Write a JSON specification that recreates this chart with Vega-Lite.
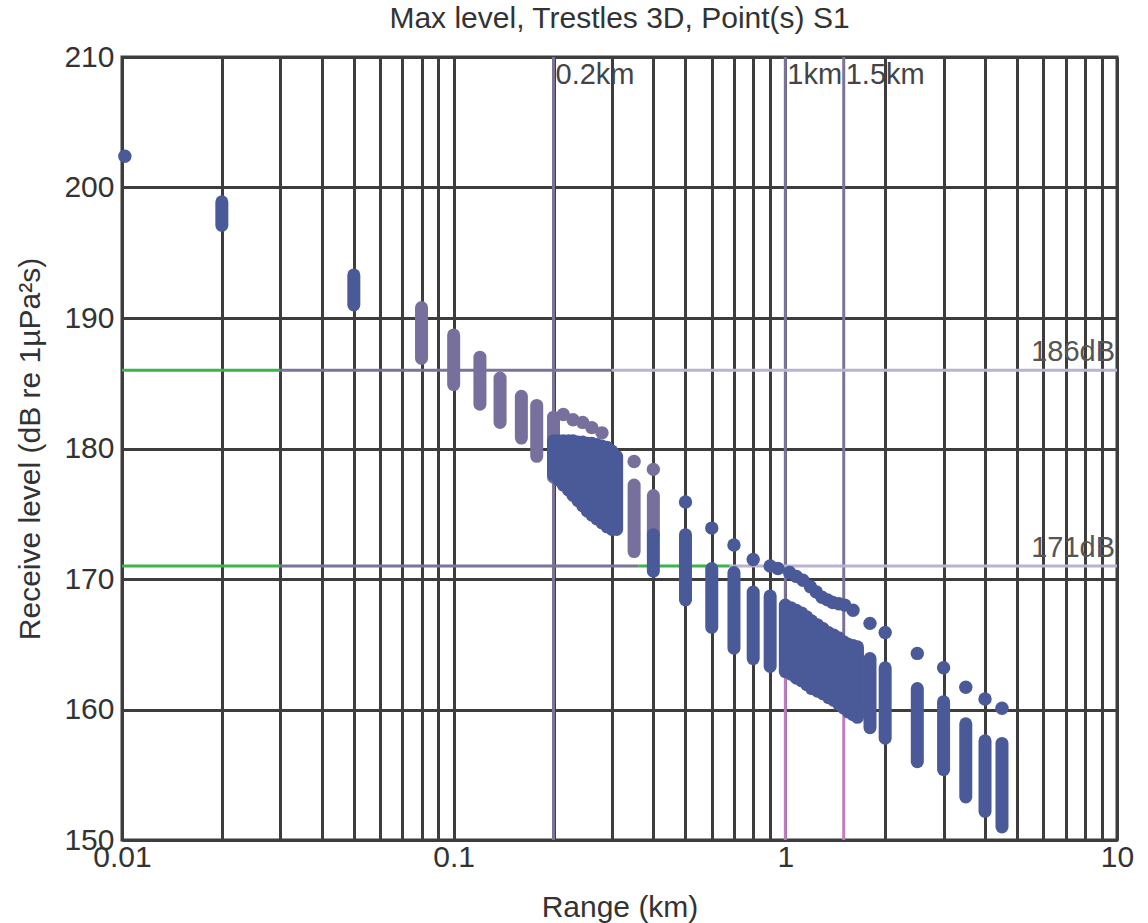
{
  "$schema": "https://vega.github.io/schema/vega-lite/v6.json",
  "width": 995,
  "height": 783,
  "autosize": "none",
  "padding": {"left": 122, "top": 57, "right": 31, "bottom": 83},
  "background": "white",
  "config": {
    "font": "Liberation Sans",
    "view": {"stroke": "#3d3d3d", "strokeWidth": 3},
    "axis": {
      "grid": true, "gridColor": "#3d3d3d", "gridWidth": 3, "gridOpacity": 1,
      "domain": false, "ticks": false,
      "labelFont": "Liberation Sans", "labelFontSize": 30, "labelColor": "#333333",
      "titleFont": "Liberation Sans", "titleFontSize": 30, "titleFontWeight": "normal", "titleColor": "#333333",
      "labelOverlap": false, "labelFlush": false, "labelBound": false
    },
    "axisX": {"labelPadding": 2, "titlePadding": 20},
    "axisY": {"labelPadding": 8, "titlePadding": 18}
  },
  "title": {
    "text": "Max level, Trestles 3D, Point(s) S1",
    "fontSize": 30, "fontWeight": "normal", "color": "#333333", "font": "Liberation Sans",
    "anchor": "middle", "offset": 8
  },
  "datasets": {
    "cols": [
      {"r": 0.02, "lo": 197.1, "hi": 198.9, "s": "blue"},
      {"r": 0.05, "lo": 191.0, "hi": 193.3, "s": "blue"},
      {"r": 0.08, "lo": 186.9, "hi": 190.8, "s": "purple"},
      {"r": 0.1, "lo": 184.9, "hi": 188.7, "s": "purple"},
      {"r": 0.12, "lo": 183.4, "hi": 187.0, "s": "purple"},
      {"r": 0.138, "lo": 182.0, "hi": 185.4, "s": "purple"},
      {"r": 0.16, "lo": 180.8, "hi": 184.0, "s": "purple"},
      {"r": 0.178, "lo": 179.4, "hi": 183.3, "s": "purple"},
      {"r": 0.2, "lo": 177.8, "hi": 182.4, "s": "purple"},
      {"r": 0.35, "lo": 172.1, "hi": 177.2, "s": "purple"},
      {"r": 0.4, "lo": 173.4, "hi": 176.4, "s": "purple"},
      {"r": 0.2, "lo": 178.0, "hi": 180.6, "s": "blue"},
      {"r": 0.207, "lo": 177.6, "hi": 180.6, "s": "blue"},
      {"r": 0.214, "lo": 177.2, "hi": 180.6, "s": "blue"},
      {"r": 0.222, "lo": 176.8, "hi": 180.6, "s": "blue"},
      {"r": 0.229, "lo": 176.4, "hi": 180.6, "s": "blue"},
      {"r": 0.237, "lo": 176.0, "hi": 180.5, "s": "blue"},
      {"r": 0.245, "lo": 175.6, "hi": 180.5, "s": "blue"},
      {"r": 0.253, "lo": 175.2, "hi": 180.4, "s": "blue"},
      {"r": 0.261, "lo": 174.9, "hi": 180.4, "s": "blue"},
      {"r": 0.27, "lo": 174.6, "hi": 180.3, "s": "blue"},
      {"r": 0.28, "lo": 174.3, "hi": 180.2, "s": "blue"},
      {"r": 0.29, "lo": 174.0, "hi": 180.1, "s": "blue"},
      {"r": 0.3, "lo": 173.8, "hi": 179.8, "s": "blue"},
      {"r": 0.31, "lo": 173.8, "hi": 179.4, "s": "blue"},
      {"r": 0.4, "lo": 170.6, "hi": 173.4, "s": "blue"},
      {"r": 0.5, "lo": 168.4, "hi": 173.4, "s": "blue"},
      {"r": 0.6, "lo": 166.3, "hi": 170.8, "s": "blue"},
      {"r": 0.7, "lo": 164.7, "hi": 170.5, "s": "blue"},
      {"r": 0.8, "lo": 163.9, "hi": 169.0, "s": "blue"},
      {"r": 0.9, "lo": 163.3, "hi": 168.7, "s": "blue"},
      {"r": 1.0, "lo": 162.9, "hi": 168.0, "s": "blue"},
      {"r": 1.04, "lo": 162.7, "hi": 167.8, "s": "blue"},
      {"r": 1.08, "lo": 162.4, "hi": 167.6, "s": "blue"},
      {"r": 1.12, "lo": 162.2, "hi": 167.4, "s": "blue"},
      {"r": 1.16, "lo": 161.9, "hi": 167.1, "s": "blue"},
      {"r": 1.2, "lo": 161.6, "hi": 166.8, "s": "blue"},
      {"r": 1.25, "lo": 161.4, "hi": 166.5, "s": "blue"},
      {"r": 1.3, "lo": 161.2, "hi": 166.2, "s": "blue"},
      {"r": 1.35, "lo": 160.9, "hi": 165.9, "s": "blue"},
      {"r": 1.4, "lo": 160.7, "hi": 165.7, "s": "blue"},
      {"r": 1.45, "lo": 160.4, "hi": 165.5, "s": "blue"},
      {"r": 1.5, "lo": 160.1, "hi": 165.2, "s": "blue"},
      {"r": 1.55, "lo": 159.8, "hi": 165.0, "s": "blue"},
      {"r": 1.6, "lo": 159.6, "hi": 164.9, "s": "blue"},
      {"r": 1.65, "lo": 159.4, "hi": 164.8, "s": "blue"},
      {"r": 1.8, "lo": 158.6, "hi": 163.9, "s": "blue"},
      {"r": 2.0, "lo": 157.8, "hi": 163.2, "s": "blue"},
      {"r": 2.5, "lo": 156.0, "hi": 161.6, "s": "blue"},
      {"r": 3.0, "lo": 155.4, "hi": 160.6, "s": "blue"},
      {"r": 3.5, "lo": 153.3, "hi": 158.9, "s": "blue"},
      {"r": 4.0, "lo": 152.2, "hi": 157.6, "s": "blue"},
      {"r": 4.5, "lo": 151.0, "hi": 157.4, "s": "blue"}
    ],
    "dots": [
      {"r": 0.0102, "lo": 202.4, "s": "blue"},
      {"r": 0.214, "lo": 182.6, "s": "purple"},
      {"r": 0.229, "lo": 182.2, "s": "purple"},
      {"r": 0.245, "lo": 182.0, "s": "purple"},
      {"r": 0.261, "lo": 181.6, "s": "purple"},
      {"r": 0.28, "lo": 181.2, "s": "purple"},
      {"r": 0.35, "lo": 179.0, "s": "purple"},
      {"r": 0.4, "lo": 178.4, "s": "purple"},
      {"r": 0.5, "lo": 175.9, "s": "blue"},
      {"r": 0.6, "lo": 173.9, "s": "blue"},
      {"r": 0.7, "lo": 172.6, "s": "blue"},
      {"r": 0.8, "lo": 171.5, "s": "blue"},
      {"r": 0.9, "lo": 171.0, "s": "blue"},
      {"r": 0.95, "lo": 170.8, "s": "blue"},
      {"r": 1.03, "lo": 170.5, "s": "blue"},
      {"r": 1.08, "lo": 170.2, "s": "blue"},
      {"r": 1.13, "lo": 169.9, "s": "blue"},
      {"r": 1.19, "lo": 169.4, "s": "blue"},
      {"r": 1.24, "lo": 169.0, "s": "blue"},
      {"r": 1.29, "lo": 168.6, "s": "blue"},
      {"r": 1.34, "lo": 168.4, "s": "blue"},
      {"r": 1.39, "lo": 168.2, "s": "blue"},
      {"r": 1.45, "lo": 168.1, "s": "blue"},
      {"r": 1.51, "lo": 168.0, "s": "blue"},
      {"r": 1.6, "lo": 167.6, "s": "blue"},
      {"r": 1.8, "lo": 166.6, "s": "blue"},
      {"r": 2.0, "lo": 165.9, "s": "blue"},
      {"r": 2.5, "lo": 164.3, "s": "blue"},
      {"r": 3.0, "lo": 163.2, "s": "blue"},
      {"r": 3.5, "lo": 161.7, "s": "blue"},
      {"r": 4.0, "lo": 160.8, "s": "blue"},
      {"r": 4.5, "lo": 160.1, "s": "blue"}
    ],
    "vref": [
      {"r": 0.2, "lo": 150, "hi": 210, "s": "lav"},
      {"r": 1.0, "lo": 163, "hi": 210, "s": "lav"},
      {"r": 1.0, "lo": 150, "hi": 163, "s": "pink"},
      {"r": 1.5, "lo": 160, "hi": 210, "s": "lav"},
      {"r": 1.5, "lo": 150, "hi": 160, "s": "pink"}
    ],
    "href": [
      {"r": 0.01, "r2": 0.03, "lo": 186, "s": "green"},
      {"r": 0.03, "r2": 0.3, "lo": 186, "s": "lav"},
      {"r": 0.3, "r2": 10, "lo": 186, "s": "light"},
      {"r": 0.01, "r2": 0.03, "lo": 171, "s": "green"},
      {"r": 0.03, "r2": 0.36, "lo": 171, "s": "lav"},
      {"r": 0.36, "r2": 0.68, "lo": 171, "s": "green"},
      {"r": 0.68, "r2": 10, "lo": 171, "s": "light"}
    ],
    "notesL": [
      {"r": 0.2, "lo": 208.6, "t": "0.2km"},
      {"r": 1.0, "lo": 208.6, "t": "1km"},
      {"r": 1.5, "lo": 208.6, "t": "1.5km"}
    ],
    "notesR": [
      {"r": 10, "lo": 187.4, "t": "186dB"},
      {"r": 10, "lo": 172.4, "t": "171dB"}
    ]
  },
  "encoding": {
    "x": {
      "field": "r", "type": "quantitative",
      "scale": {"type": "log", "domain": [0.01, 10], "nice": false},
      "title": "Range (km)",
      "axis": {
        "values": [0.01, 0.02, 0.03, 0.04, 0.05, 0.06, 0.07, 0.08, 0.09, 0.1, 0.2, 0.3, 0.4, 0.5, 0.6, 0.7, 0.8, 0.9, 1, 2, 3, 4, 5, 6, 7, 8, 9, 10],
        "labelExpr": "datum.value == 0.01 ? '0.01' : datum.value == 0.1 ? '0.1' : datum.value == 1 ? '1' : datum.value == 10 ? '10' : ''"
      }
    },
    "y": {
      "field": "lo", "type": "quantitative",
      "scale": {"domain": [150, 210], "nice": false, "zero": false},
      "title": "Receive level (dB re 1µPa²s)",
      "axis": {"values": [150, 160, 170, 180, 190, 200, 210], "format": "d"}
    },
    "color": {
      "field": "s", "type": "nominal", "legend": null,
      "scale": {"domain": ["blue", "purple", "lav", "pink", "green", "light"], "range": ["#4a5a98", "#77709c", "#7b7399", "#c07cc0", "#3db34a", "#b8b3cf"]}
    }
  },
  "layer": [
    {
      "data": {"name": "vref"},
      "mark": {"type": "rule", "strokeWidth": 3},
      "encoding": {"y2": {"field": "hi"}}
    },
    {
      "data": {"name": "href"},
      "mark": {"type": "rule", "strokeWidth": 3},
      "encoding": {"x2": {"field": "r2"}}
    },
    {
      "data": {"name": "cols"},
      "mark": {"type": "rule", "strokeWidth": 13, "strokeCap": "round"},
      "encoding": {"y2": {"field": "hi"}}
    },
    {
      "data": {"name": "dots"},
      "mark": {"type": "point", "filled": true, "opacity": 1, "size": 180}
    },
    {
      "data": {"name": "notesL"},
      "mark": {"type": "text", "align": "left", "baseline": "middle", "dx": 2, "fontSize": 29, "font": "Liberation Sans"},
      "encoding": {"text": {"field": "t"}, "color": {"value": "#444444"}}
    },
    {
      "data": {"name": "notesR"},
      "mark": {"type": "text", "align": "right", "baseline": "middle", "dx": -2, "fontSize": 29, "font": "Liberation Sans"},
      "encoding": {"text": {"field": "t"}, "color": {"value": "#555555"}}
    }
  ]
}
